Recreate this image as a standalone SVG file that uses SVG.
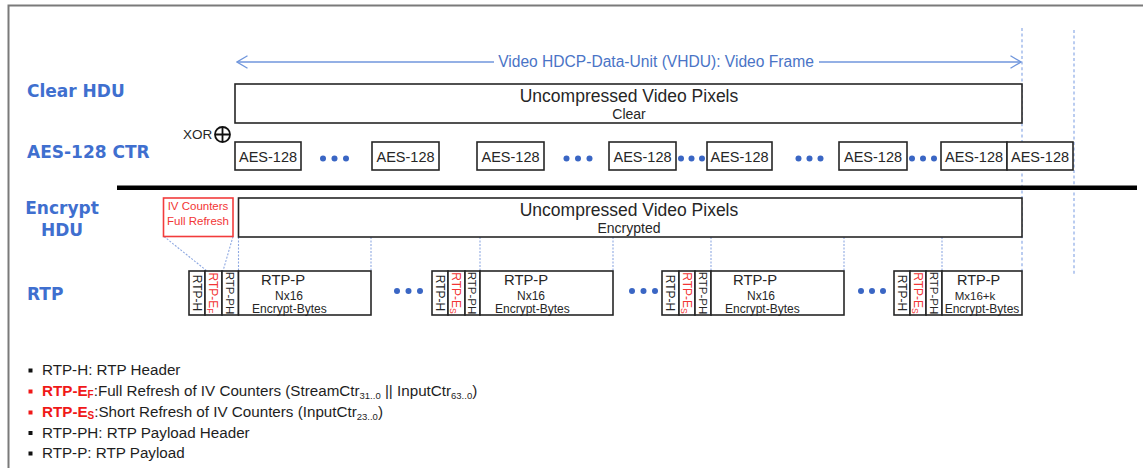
<svg xmlns="http://www.w3.org/2000/svg" width="1143" height="468" viewBox="0 0 1143 468">
  <defs>
    <marker id="chev" viewBox="0 0 12 14" refX="11" refY="7" markerWidth="12" markerHeight="14" markerUnits="userSpaceOnUse" orient="auto-start-reverse">
      <path d="M0.5,0.8 L11,7 L0.5,13.2" fill="none" stroke="#7096dc" stroke-width="1.3"/>
    </marker>
    <style>
      .frame { fill: none; stroke: #7a7a7a; stroke-width: 2; }
      .lbl { font-family: "DejaVu Sans", sans-serif; font-weight: bold; font-size: 17px; fill: #3f6fcf; }
      .box { fill: #fff; stroke: #262626; stroke-width: 1.6; }
      .cal { font-family: "Liberation Sans", Arial, sans-serif; fill: #262626; }
      .big { font-size: 17.5px; }
      .sub { font-size: 14px; }
      .aes { font-size: 14.5px; }
      .dot { fill: #3a66c4; }
      .guide { stroke: #9db7ea; stroke-width: 1.4; stroke-dasharray: 3 2.6; fill: none; }
      .link { stroke: #8fa9e2; stroke-width: 1.1; stroke-dasharray: 2 1.5; fill: none; }
      .vt { font-family: "Liberation Sans", Arial, sans-serif; font-size: 12px; fill: #262626; }
      .vph { font-size: 11.5px; }
      .red { fill: #f23535; }
      .pl { font-family: "Liberation Sans", Arial, sans-serif; fill: #262626; }
      .leg { font-family: "Liberation Sans", Arial, sans-serif; font-size: 15.2px; fill: #1e1e1e; }
      .legr { fill: #f01818; font-weight: bold; }
    </style>
  </defs>

  <rect width="1143" height="468" fill="#fff"/>
  <!-- outer frame, open at right and bottom -->
  <path class="frame" d="M1143,5.5 H8.5 V468"/>

  <!-- row labels -->
  <g id="row-labels">
    <text class="lbl" x="27" y="97">Clear HDU</text>
    <text class="lbl" x="27" y="158">AES-128 CTR</text>
    <text class="lbl" x="62" y="214" text-anchor="middle">Encrypt</text>
    <text class="lbl" x="62" y="236" text-anchor="middle">HDU</text>
    <text class="lbl" x="27" y="300">RTP</text>
  </g>

  <!-- frame-boundary guides -->
  <g id="connectors">
    <line class="guide" x1="1022" y1="28" x2="1022" y2="272"/>
    <line class="guide" x1="1074" y1="30" x2="1074" y2="274"/>
    <!-- VHDU span arrow -->
    <line x1="237" y1="62" x2="494" y2="62" stroke="#7096dc" stroke-width="1.3" marker-start="url(#chev)"/>
    <line x1="819" y1="62" x2="1021" y2="62" stroke="#7096dc" stroke-width="1.3" marker-end="url(#chev)"/>
    <!-- encrypted frame to RTP payload mapping -->
    <line class="link" x1="164" y1="236.5" x2="207" y2="271"/>
    <line class="link" x1="233" y1="236.5" x2="223" y2="271"/>
    <line class="link" x1="238.5" y1="237" x2="238.5" y2="271"/>
    <line class="link" x1="371" y1="237" x2="371" y2="271"/>
    <line class="link" x1="480" y1="237" x2="480" y2="271"/>
    <line class="link" x1="613" y1="237" x2="613" y2="271"/>
    <line class="link" x1="711" y1="237" x2="711" y2="271"/>
    <line class="link" x1="844" y1="237" x2="844" y2="271"/>
    <line class="link" x1="942" y1="237" x2="942" y2="271"/>
  </g>

  <g id="vhdu-label">
    <text x="656" y="67" text-anchor="middle" font-family="Liberation Sans, Arial, sans-serif" font-size="15.6" fill="#4a74c6">Video HDCP-Data-Unit (VHDU): Video Frame</text>
  </g>

  <g id="clear-hdu">
    <rect class="box" x="235" y="84" width="787" height="39"/>
    <text class="cal big" x="629" y="101.5" text-anchor="middle">Uncompressed Video Pixels</text>
    <text class="cal sub" x="629" y="119" text-anchor="middle">Clear</text>
  </g>

  <g id="xor">
    <text class="cal" x="183" y="139" font-size="13.5">XOR</text>
    <circle cx="222.5" cy="134.5" r="7.5" fill="none" stroke="#111" stroke-width="1.8"/>
    <path d="M215,134.5 H230 M222.5,127 V142" stroke="#111" stroke-width="1.8"/>
  </g>

  <g id="aes-blocks">
    <rect class="box" x="235" y="142" width="66" height="28"/>
    <text class="cal aes" x="268" y="161.5" text-anchor="middle">AES-128</text>
    <rect class="box" x="372" y="142" width="67" height="28"/>
    <text class="cal aes" x="405.5" y="161.5" text-anchor="middle">AES-128</text>
    <rect class="box" x="477" y="142" width="67" height="28"/>
    <text class="cal aes" x="510.5" y="161.5" text-anchor="middle">AES-128</text>
    <rect class="box" x="609" y="142" width="67" height="28"/>
    <text class="cal aes" x="642.5" y="161.5" text-anchor="middle">AES-128</text>
    <rect class="box" x="707" y="142" width="65" height="28"/>
    <text class="cal aes" x="739.5" y="161.5" text-anchor="middle">AES-128</text>
    <rect class="box" x="839" y="142" width="68" height="28"/>
    <text class="cal aes" x="873" y="161.5" text-anchor="middle">AES-128</text>
    <rect class="box" x="941" y="142" width="66" height="28"/>
    <text class="cal aes" x="974" y="161.5" text-anchor="middle">AES-128</text>
    <rect class="box" x="1007" y="142" width="66" height="28"/>
    <text class="cal aes" x="1040" y="161.5" text-anchor="middle">AES-128</text>
    <!-- ellipses -->
    <circle class="dot" cx="323" cy="158.5" r="3"/><circle class="dot" cx="334.5" cy="158.5" r="3"/><circle class="dot" cx="346" cy="158.5" r="3"/>
    <circle class="dot" cx="566.5" cy="158.5" r="3"/><circle class="dot" cx="578" cy="158.5" r="3"/><circle class="dot" cx="589.5" cy="158.5" r="3"/>
    <circle class="dot" cx="681" cy="158.5" r="3"/><circle class="dot" cx="691.5" cy="158.5" r="3"/><circle class="dot" cx="702" cy="158.5" r="3"/>
    <circle class="dot" cx="798.5" cy="158.5" r="3"/><circle class="dot" cx="809.5" cy="158.5" r="3"/><circle class="dot" cx="820.5" cy="158.5" r="3"/>
    <circle class="dot" cx="912" cy="158.5" r="3"/><circle class="dot" cx="923" cy="158.5" r="3"/><circle class="dot" cx="934" cy="158.5" r="3"/>
  </g>

  <!-- clear / encrypted separator -->
  <rect x="117" y="185.5" width="1020" height="4.5" fill="#000"/>

  <g id="iv-refresh">
    <rect x="163.5" y="198" width="69.5" height="38.5" fill="#fff" stroke="#f23c3c" stroke-width="1.6"/>
    <text class="cal red" x="198" y="209.5" font-size="11.5" text-anchor="middle">IV Counters</text>
    <text class="cal red" x="198" y="224.5" font-size="11.5" text-anchor="middle">Full Refresh</text>
  </g>

  <g id="encrypt-hdu">
    <rect class="box" x="238.5" y="198" width="783.5" height="39"/>
    <text class="cal big" x="629" y="216" text-anchor="middle">Uncompressed Video Pixels</text>
    <text class="cal sub" x="629" y="232.5" text-anchor="middle">Encrypted</text>
  </g>

  <g id="rtp-packet-1">
    <rect class="box" x="189" y="271" width="16" height="44"/>
    <rect class="box" x="205" y="271" width="17" height="44"/>
    <rect class="box" x="222" y="271" width="16.5" height="44" stroke-width="2"/>
    <rect class="box" x="238.5" y="271" width="132.5" height="44"/>
    <text class="vt" transform="translate(192.7,293) rotate(90)" text-anchor="middle">RTP-H</text>
    <text class="vt red" transform="translate(209.2,293) rotate(90)" text-anchor="middle">RTP-E<tspan font-size="8.5" dy="2">F</tspan></text>
    <text class="vt vph" transform="translate(226.2,293) rotate(90)" text-anchor="middle">RTP-PH</text>
    <text class="pl" x="261" y="285" font-size="14.8">RTP-P</text>
    <text class="pl" x="275" y="300" font-size="12">Nx16</text>
    <text class="pl" x="252" y="313" font-size="12">Encrypt-Bytes</text>
  </g>

  <g id="rtp-packet-2">
    <rect class="box" x="432" y="271" width="16" height="44"/>
    <rect class="box" x="448" y="271" width="17" height="44"/>
    <rect class="box" x="465" y="271" width="15" height="44"/>
    <rect class="box" x="480" y="271" width="133" height="44"/>
    <text class="vt" transform="translate(435.7,293) rotate(90)" text-anchor="middle">RTP-H</text>
    <text class="vt red" transform="translate(452.2,293) rotate(90)" text-anchor="middle">RTP-E<tspan font-size="8.5" dy="2">S</tspan></text>
    <text class="vt vph" transform="translate(468.3,293) rotate(90)" text-anchor="middle">RTP-PH</text>
    <text class="pl" x="504" y="285" font-size="14.8">RTP-P</text>
    <text class="pl" x="517" y="300" font-size="12">Nx16</text>
    <text class="pl" x="495" y="313" font-size="12">Encrypt-Bytes</text>
  </g>

  <g id="rtp-packet-3">
    <rect class="box" x="662" y="271" width="17" height="44"/>
    <rect class="box" x="679" y="271" width="16" height="44"/>
    <rect class="box" x="695" y="271" width="16" height="44" stroke-width="2"/>
    <rect class="box" x="711" y="271" width="133" height="44"/>
    <text class="vt" transform="translate(666.2,293) rotate(90)" text-anchor="middle">RTP-H</text>
    <text class="vt red" transform="translate(682.7,293) rotate(90)" text-anchor="middle">RTP-E<tspan font-size="8.5" dy="2">S</tspan></text>
    <text class="vt vph" transform="translate(698.8,293) rotate(90)" text-anchor="middle">RTP-PH</text>
    <text class="pl" x="733" y="285" font-size="14.8">RTP-P</text>
    <text class="pl" x="747" y="300" font-size="12">Nx16</text>
    <text class="pl" x="725" y="313" font-size="12">Encrypt-Bytes</text>
  </g>

  <g id="rtp-packet-4">
    <rect class="box" x="894" y="271" width="16" height="44"/>
    <rect class="box" x="910" y="271" width="16" height="44"/>
    <rect class="box" x="926" y="271" width="16" height="44"/>
    <rect class="box" x="942" y="271" width="80" height="44"/>
    <text class="vt" transform="translate(897.7,293) rotate(90)" text-anchor="middle">RTP-H</text>
    <text class="vt red" transform="translate(913.7,293) rotate(90)" text-anchor="middle">RTP-E<tspan font-size="8.5" dy="2">S</tspan></text>
    <text class="vt vph" transform="translate(929.8,293) rotate(90)" text-anchor="middle">RTP-PH</text>
    <text class="pl" x="957" y="285" font-size="14.5">RTP-P</text>
    <text class="pl" x="975" y="300" font-size="11.5" text-anchor="middle">Mx16+k</text>
    <text class="pl" x="982" y="313" font-size="12" text-anchor="middle">Encrypt-Bytes</text>
  </g>

  <g id="rtp-ellipses">
    <circle class="dot" cx="397" cy="291" r="3"/><circle class="dot" cx="408.5" cy="291" r="3"/><circle class="dot" cx="420" cy="291" r="3"/>
    <circle class="dot" cx="632" cy="291" r="3"/><circle class="dot" cx="643.5" cy="291" r="3"/><circle class="dot" cx="655" cy="291" r="3"/>
    <circle class="dot" cx="861" cy="291" r="3"/><circle class="dot" cx="872" cy="291" r="3"/><circle class="dot" cx="883" cy="291" r="3"/>
  </g>

  <g id="legend">
    <rect x="28.5" y="368.5" width="4" height="4" fill="#111"/>
    <text class="leg" x="42" y="375">RTP-H: RTP Header</text>
    <rect x="28.5" y="389.5" width="4" height="4" fill="#f01818"/>
    <text class="leg" x="42" y="396"><tspan class="legr">RTP-E</tspan><tspan class="legr" font-size="10" dy="2">F</tspan><tspan dy="-2">:Full Refresh of IV Counters (StreamCtr</tspan><tspan font-size="9.5" dy="3">31..0</tspan><tspan dy="-3"> || InputCtr</tspan><tspan font-size="9.5" dy="3">63..0</tspan><tspan dy="-3">)</tspan></text>
    <rect x="28.5" y="410.5" width="4" height="4" fill="#f01818"/>
    <text class="leg" x="42" y="417"><tspan class="legr">RTP-E</tspan><tspan class="legr" font-size="10" dy="2">S</tspan><tspan dy="-2">:Short Refresh of IV Counters (InputCtr</tspan><tspan font-size="9.5" dy="3">23..0</tspan><tspan dy="-3">)</tspan></text>
    <rect x="28.5" y="431" width="4" height="4" fill="#111"/>
    <text class="leg" x="42" y="437.5">RTP-PH: RTP Payload Header</text>
    <rect x="28.5" y="451.5" width="4" height="4" fill="#111"/>
    <text class="leg" x="42" y="458">RTP-P: RTP Payload</text>
  </g>
</svg>
